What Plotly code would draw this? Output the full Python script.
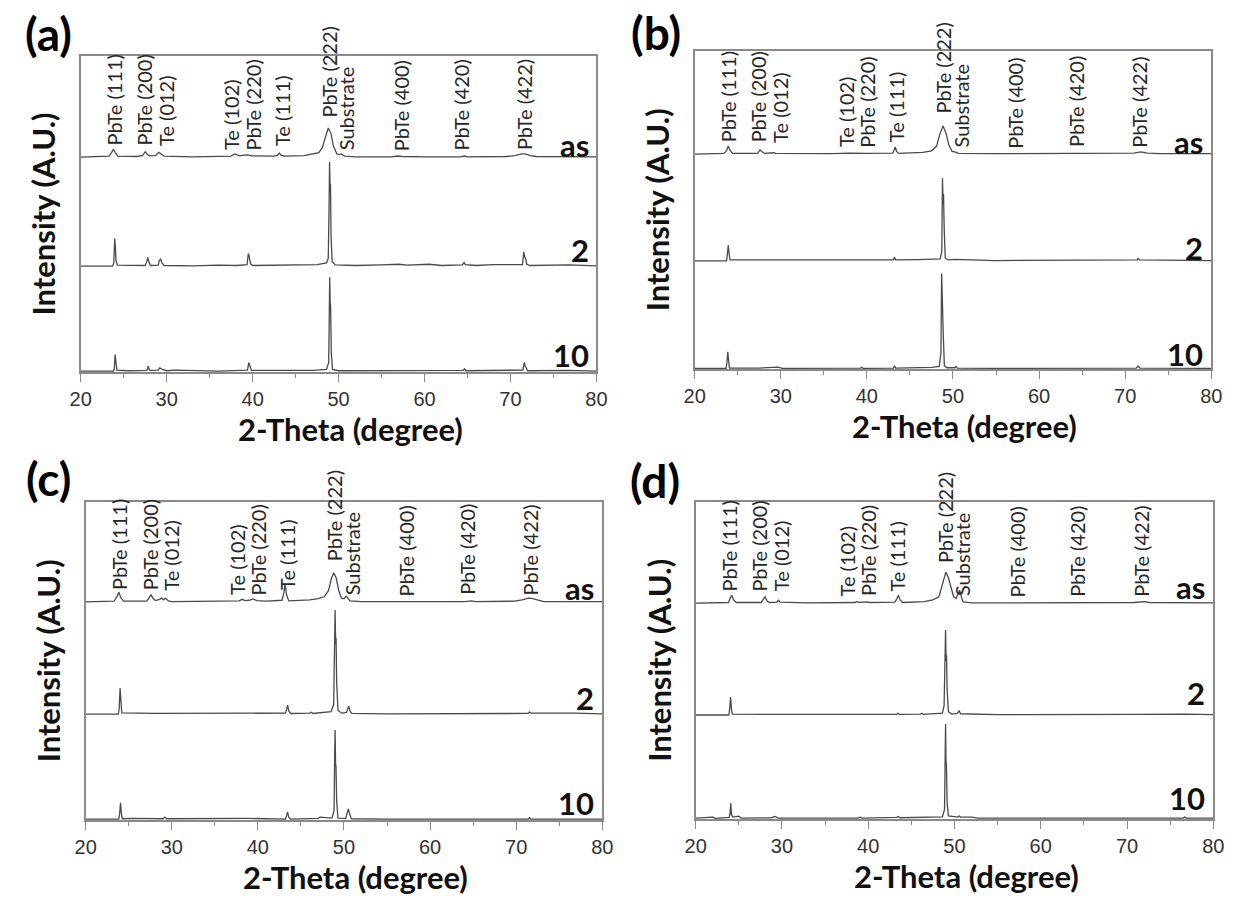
import plotly.graph_objects as go

# ---------------- data (2-theta in degree, intensity in a.u., baseline ~0) ----------------
SAMPLES = ["as", "2", "10"]
PANELS = ["(a)", "(b)", "(c)", "(d)"]
PEAK_LABELS = ["PbTe (111)", "PbTe (200)", "Te (012)", "Te (102)", "PbTe (220)",
               "Te (111)", "PbTe (222)", "Substrate", "PbTe (400)", "PbTe (420)", "PbTe (422)"]
PEAK_POS = [23.9, 27.4, 29.9, 37.5, 40.0, 43.4, 48.85, 50.9, 57.2, 64.2, 71.6]
X_TICKS = [20, 30, 40, 50, 60, 70, 80]

A_AS = [(20,0),(22.5,0.1),(23.3,0.3),(23.6,1.5),(23.8,2.5),(24.0,1.5),(24.3,0.3),
        (26.5,0.2),(27.2,0.5),(27.5,1.7),(27.7,1.0),(28.0,0.4),(28.7,0.5),(29.1,1.5),(29.3,1.0),(29.7,0.3),
        (33,0.1),(37.5,0.3),(37.9,1.0),(38.1,0.8),(38.5,0.4),(39.0,0.6),(39.4,0.7),(39.9,0.4),(42.5,0.3),
        (42.9,0.6),(43.1,1.3),(43.3,0.6),(43.7,0.3),(46,0.5),(47,0.9),(47.7,1.4),(48.1,3.0),(48.5,7.0),
        (48.8,9.2),(49.1,7.6),(49.4,3.5),(49.8,1.0),(50.1,0.8),(50.35,1.0),(50.7,0.3),(52,0.1),
        (56.2,0.1),(56.8,0.35),(57.4,0.2),(60,0.1),(64.2,0.1),(64.6,0.35),(65.0,0.1),(69.5,0.2),
        (70.5,0.5),(71.3,1.0),(71.7,1.0),(72.3,0.5),(73,0.2),(80,0.1)]
A_2 = [(20,0),(23.7,0),(23.85,1.0),(23.95,8.7),(24.05,5.0),(24.1,2.0),(24.25,0.3),(27.5,0.2),(27.7,1.5),
       (27.8,2.8),(27.95,1.2),(28.1,0.2),(29.0,0.3),(29.15,1.8),(29.3,2.2),(29.45,1.0),(29.7,0.2),
       (33,0.1),(36,0.3),(38.2,0.2),(39.35,0.5),(39.5,4.0),(39.6,3.0),(39.75,0.8),(40,0.2),(43.2,0.3),
       (46,0.4),(47.5,0.5),(48.6,1.0),(48.8,2.5),(48.9,20),(48.95,33),(49.02,24),(49.06,26),(49.12,10),
       (49.25,1.5),(49.6,0.4),(52,0.2),(55,0.4),(57.0,0.6),(58,0.3),(60.5,0.6),(62,0.2),(64.4,0.4),
       (64.6,1.2),(64.75,0.5),(66,0.2),(68,0.5),(71.4,0.5),(71.55,4.5),(71.65,3.0),(71.75,2.5),
       (71.9,0.6),(72.3,0.2),(76.8,0.4),(80,0.1)]
A_10 = [(20,0.3),(23.8,0.3),(23.9,1),(24.0,5.5),(24.1,3),(24.2,0.6),(25.5,0.4),(27.7,0.5),(27.85,1.8),
        (28.0,0.5),(29.0,0.6),(29.2,1.3),(29.5,0.8),(30,0.4),(31,0.6),(36,0.3),(39.4,0.6),(39.55,3.0),
        (39.7,1.8),(39.85,0.5),(47,0.5),(48.6,0.8),(48.85,3),(48.92,20),(48.97,30),(49.02,22),(49.07,21),
        (49.15,6),(49.3,0.8),(50,0.4),(57,0.4),(64.5,0.5),(64.65,1.0),(64.8,0.4),(71.45,0.6),(71.6,3.0),
        (71.7,2.0),(71.8,1.5),(72,0.4),(76.7,0.5),(80,0.3)]

B_AS = [(20,0),(23.4,0.2),(23.7,1.0),(23.9,2.5),(24.1,1.2),(24.4,0.2),(27.3,0.2),(27.6,1.3),(27.8,0.8),
        (28.1,0.2),(29.2,0.4),(29.4,0.2),(36,0.1),(38,0.3),(40,0.2),(43.0,0.3),(43.15,1.2),(43.3,2.2),
        (43.45,0.8),(43.7,0.2),(46.5,0.5),(47.5,1.0),(48.1,2.5),(48.5,6.5),(48.85,8.8),(49.2,6.5),
        (49.5,3.0),(49.9,0.8),(50.3,0.6),(50.6,0.2),(55,0.1),(64,0.2),(71,0.3),(71.8,0.7),(72.6,0.3),
        (74,0.1),(80,0.1)]
B_2 = [(20,0),(23.7,0),(23.8,2),(23.9,5.0),(24.0,2.5),(24.1,0.3),(27.6,0.3),(29.2,0.3),(38.3,0.2),
       (39.3,0.4),(43.1,0.3),(43.2,1.2),(43.35,0.3),(46,0.4),(48.5,0.6),(48.7,3),(48.78,26),(48.85,18),
       (48.9,21),(48.98,10),(49.1,1.0),(49.4,0.3),(50.3,0.5),(55,0.1),(71.4,0.3),(71.5,0.8),(71.65,0.3),
       (80,0.1)]
B_10 = [(20,0.2),(23.65,0.2),(23.75,2.0),(23.85,5.4),(23.95,2.5),(24.05,0.3),(27.5,0.3),(29.2,0.4),
        (29.7,0.6),(30.2,0.2),(39.3,0.3),(39.4,0.6),(39.55,0.2),(43.1,0.3),(43.2,1.0),(43.35,0.3),
        (45.7,0.4),(46,0.6),(47.5,0.5),(48.4,0.8),(48.6,5),(48.68,30),(48.75,20),(48.8,23),(48.88,10),
        (49.0,1.0),(49.3,0.4),(50.2,0.4),(50.35,0.8),(50.5,0.3),(55,0.2),(71.3,0.3),(71.5,0.9),
        (71.7,0.3),(80,0.2)]

C_AS = [(20,0),(23.3,0.2),(23.6,1.5),(23.85,3.0),(24.1,1.2),(24.4,0.2),(27.1,0.2),(27.4,1.5),(27.6,2.2),
        (27.8,1.2),(28.1,0.4),(28.6,0.8),(28.8,1.2),(29.0,0.7),(29.3,1.1),(29.6,0.3),(30,0.1),(35.5,0.2),
        (37.8,0.3),(38.2,0.8),(38.5,0.4),(39.0,0.5),(39.4,0.9),(39.9,0.4),(41,0.2),(42.8,0.5),(43.0,2.5),
        (43.15,5.4),(43.35,2.0),(43.6,0.3),(46,0.6),(47,1.0),(47.7,1.6),(48.2,3.5),(48.55,7.5),(48.8,9.1),
        (49.1,7.5),(49.4,3.5),(49.7,1.2),(50.0,1.0),(50.25,1.8),(50.45,1.2),(50.7,0.3),(52,0.1),
        (56.8,0.3),(57.3,0.1),(64,0.1),(64.8,0.3),(65.3,0.1),(69.8,0.2),(70.7,0.6),(71.4,1.2),
        (71.8,1.1),(72.4,0.6),(73.2,0.1),(80,0.1)]
C_2 = [(20,0),(23.8,0),(23.9,2),(24.0,8.2),(24.1,4),(24.2,0.4),(27.8,0.2),(29.2,0.2),(29.4,0.4),
       (29.6,0.2),(39.5,0.2),(43.2,0.3),(43.35,1.5),(43.45,2.8),(43.6,1.0),(43.8,0.2),(46.0,0.3),
       (46.2,0.6),(46.4,0.2),(47.3,0.4),(48.5,0.8),(48.8,3),(48.9,25),(48.97,32.7),(49.03,22),
       (49.08,24),(49.15,10),(49.3,1.2),(49.7,0.3),(50.3,0.5),(50.45,1.8),(50.55,2.5),(50.7,1.0),
       (50.9,0.2),(55,0.1),(71.4,0.2),(71.55,0.7),(71.7,0.3),(76.7,0.3),(80,0.1)]
C_10 = [(20,0.3),(23.85,0.3),(23.95,2),(24.05,5.4),(24.15,2),(24.25,0.4),(25.5,0.5),(29.0,0.4),
        (29.2,0.9),(29.4,0.4),(39,0.5),(43.2,0.3),(43.35,1.5),(43.45,2.5),(43.6,0.8),(43.8,0.3),
        (47.0,0.5),(47.2,0.9),(48.6,0.6),(48.85,3),(48.92,20),(48.97,28.3),(49.02,18),(49.07,17),
        (49.15,6),(49.3,0.6),(50.2,0.5),(50.35,2.0),(50.5,3.5),(50.65,2.0),(50.85,0.4),(55,0.3),
        (71.4,0.3),(71.55,0.7),(71.7,0.3),(80,0.3)]

D_AS = [(20,0),(23.8,0.2),(24.0,1.5),(24.2,2.5),(24.4,1.0),(24.7,0.2),(27.6,0.2),(27.9,1.5),(28.05,2.0),
        (28.3,0.6),(28.6,0.2),(29.4,0.3),(29.6,0.9),(29.8,0.3),(33,0.1),(38.5,0.2),(38.7,0.5),(38.9,0.2),
        (39.8,0.4),(40.2,0.2),(43.1,0.3),(43.35,1.5),(43.5,2.5),(43.7,1.0),(44,0.2),(46.5,0.5),(47.5,1.0),
        (48.2,2.0),(48.6,6.0),(49.0,9.8),(49.3,8.0),(49.6,4.5),(49.9,2.0),(50.2,1.5),(50.45,3.5),
        (50.6,4.1),(50.8,2.0),(51.0,0.4),(52,0.1),(57.3,0.2),(57.6,0.1),(70.8,0.2),(71.5,0.5),
        (72.0,0.5),(72.6,0.2),(78.5,0.1),(79.2,0.3),(80,0.1)]
D_2 = [(20,0),(23.85,0),(23.95,2),(24.05,5.7),(24.15,2),(24.25,0.3),(27.8,0.2),(29.2,0.3),(29.4,0.2),
       (39.6,0.2),(43.3,0.2),(43.45,0.6),(43.6,0.2),(46,0.3),(46.2,0.5),(46.4,0.2),(48.6,0.6),(48.8,3),
       (48.9,20),(48.97,26.8),(49.03,17),(49.08,19),(49.15,8),(49.3,1.0),(49.7,0.3),(50.3,0.5),
       (50.45,1.0),(50.55,1.3),(50.7,0.4),(55,0.1),(71.5,0.2),(76.7,0.3),(80,0.1)]
D_10 = [(20,0.3),(22,0.6),(22.3,0.2),(23.2,0.5),(23.9,0.5),(24.0,2.0),(24.08,5.0),(24.15,1.5),(24.3,0.6),
        (25,0.9),(25.3,0.3),(28.8,0.4),(29.2,0.8),(29.6,0.3),(38.8,0.3),(39.1,0.6),(39.3,0.3),(43.3,0.5),
        (43.5,0.8),(43.7,0.4),(46.3,0.5),(47.5,0.7),(48.6,0.7),(48.85,3),(48.92,22),(48.97,30),
        (49.02,18),(49.07,17),(49.15,5),(49.3,1.0),(50.4,0.6),(50.55,1.0),(50.7,0.6),(52,0.6),
        (52.7,0.3),(76.5,0.3),(76.7,0.6),(76.9,0.3),(80,0.3)]

PATTERNS = [[A_AS, A_2, A_10], [B_AS, B_2, B_10], [C_AS, C_2, C_10], [D_AS, D_2, D_10]]

# ---------------- layout constants (pixels of the 1240x898 page) ----------------
W, H = 1240, 898
BOX = [(71, 596, 56, 372), (696, 1222, 51, 369), (76, 602, 502, 820), (697, 1224, 502, 819)]  # l, r, t, b
STACK_OFFSET = [[68.0, 33.5, 0.0], [67.6, 34.0, 0.0], [68.6, 33.3, 0.0], [68.1, 32.8, 0.0]]
LABEL_LIFT = [3, 3, 3, 1.5, 1.5, 3, 12, 1.5, 1.2, 1.5, 1.5]   # label bottom above "as" baseline
SAMPLE_LABEL_PY = [[145, 250, 355], [142, 248, 354], [588, 698, 803], [587, 693, 798]]
PANEL_LABEL_XY = [(38, 33), (657, 32), (38, 478), (656, 480)]

LINE_COLOR = "#4a4a4a"
AXIS_COLOR = "#8a8a8a"
FONT = "Lato"


def px(x):
    return x / W


def py(y):
    return 1 - y / H


fig = go.Figure()
annotations = []
for i in range(4):
    l, r, t, b = BOX[i]
    xa = "x" if i == 0 else f"x{i+1}"
    ya = "y" if i == 0 else f"y{i+1}"
    for j, pts in enumerate(PATTERNS[i]):
        fig.add_trace(go.Scatter(
            x=[p[0] for p in pts], y=[p[1] + STACK_OFFSET[i][j] for p in pts],
            mode="lines", line=dict(color=LINE_COLOR, width=1.3),
            xaxis=xa, yaxis=ya, showlegend=False, hoverinfo="skip"))
    axkey = "" if i == 0 else str(i + 1)
    fig.update_layout(**{
        f"xaxis{axkey}": dict(domain=[px(l), px(r)], anchor=ya, range=[20, 80],
                              tickvals=X_TICKS, ticks="outside", ticklen=8, tickwidth=1.3,
                              tickcolor=AXIS_COLOR, showline=True, linecolor=AXIS_COLOR, linewidth=1.6,
                              mirror=True, showgrid=False, zeroline=False,
                              minor=dict(dtick=5, tick0=25, ticks="outside", ticklen=4,
                                         tickcolor=AXIS_COLOR, tickwidth=1.2),
                              tickfont=dict(family="Liberation Sans", size=20, color="#333333")),
        f"yaxis{axkey}": dict(domain=[py(b), py(t)], anchor=xa, range=[0, 100],
                              showticklabels=False, ticks="", showline=True, linecolor=AXIS_COLOR,
                              linewidth=1.6, mirror=True, showgrid=False, zeroline=False),
    })
    # peak labels
    for k, lab in enumerate(PEAK_LABELS):
        annotations.append(dict(x=PEAK_POS[k], y=STACK_OFFSET[i][0] + LABEL_LIFT[k], xref=xa, yref=ya,
                                text=lab, textangle=-90, showarrow=False, xanchor="center",
                                yanchor="bottom", font=dict(family=FONT, size=20, color="#262626")))
    # sample labels
    for j, s in enumerate(SAMPLES):
        annotations.append(dict(x=px(r - 6), y=py(SAMPLE_LABEL_PY[i][j]), xref="paper", yref="paper",
                                text=f"<b>{s}</b>", showarrow=False, xanchor="right", yanchor="middle",
                                font=dict(family=FONT, size=31, color="#111111")))
    # axis titles
    annotations.append(dict(x=px((l + r) / 2 + 12), y=py(b + 57), xref="paper", yref="paper",
                            text="<b>2-Theta (degree)</b>", showarrow=False, xanchor="center",
                            yanchor="middle", font=dict(family=FONT, size=31, color="#111111")))
    annotations.append(dict(x=px(l - 38), y=py((t + b) / 2), xref="paper", yref="paper",
                            text="<b>Intensity (A.U.)</b>", showarrow=False, textangle=-90,
                            xanchor="center", yanchor="middle",
                            font=dict(family=FONT, size=31, color="#111111")))
    annotations.append(dict(x=px(PANEL_LABEL_XY[i][0]), y=py(PANEL_LABEL_XY[i][1]), xref="paper",
                            yref="paper", text=f"<b>{PANELS[i]}</b>", showarrow=False,
                            xanchor="center", yanchor="middle",
                            font=dict(family=FONT, size=46, color="#000000")))

fig.update_layout(width=W, height=H, margin=dict(l=0, r=0, t=0, b=0),
                  paper_bgcolor="white", plot_bgcolor="white", annotations=annotations)
fig.write_html("out.html")
